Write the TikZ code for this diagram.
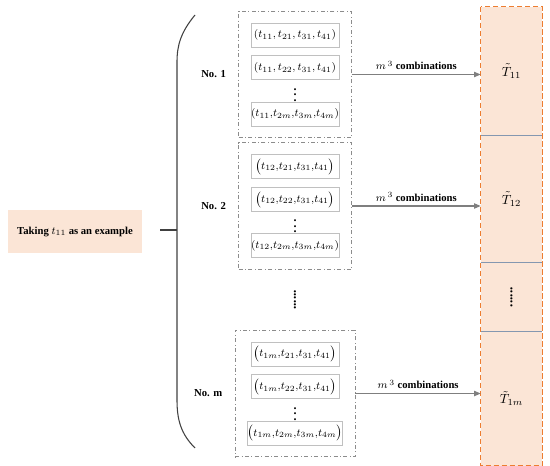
\documentclass[tikz,border=0pt]{standalone}
\usepackage{fontspec}
\setmainfont{Liberation Serif}
\usepackage{graphicx}
\usepackage{tikz}
\usetikzlibrary{positioning,fit,arrows.meta,calc}
\definecolor{peach}{HTML}{FBE5D6}
\definecolor{dashorange}{HTML}{ED7D31}
\definecolor{divline}{HTML}{8497B0}
\definecolor{grpline}{HTML}{8C8C8C}
\definecolor{tupline}{HTML}{C0C0C0}
\definecolor{flowline}{HTML}{7F7F7F}
\tikzset{
  take/.style   = {fill=peach, font=\footnotesize\bfseries, minimum width=100.5pt,
                   minimum height=32pt, inner sep=2pt},
  tuple/.style  = {draw=tupline, line width=0.7pt, minimum width=66pt,
                   minimum height=18pt, inner sep=1pt, font=\footnotesize},
  vdot/.style   = {inner sep=0pt, font=\small\bfseries, minimum height=12pt},
  mdots/.style  = {inner sep=0pt, font=\normalsize\bfseries},
  grp/.style    = {draw=grpline, dash dot, line width=0.6pt, inner xsep=9pt,
                   inner ysep=8.5pt},
  nolbl/.style  = {font=\footnotesize\bfseries, inner sep=1pt},
  cell/.style   = {fill=peach, minimum width=45.75pt, inner sep=0pt, font=\normalsize},
  flow/.style   = {-{Triangle[length=5pt,width=4pt]}, line width=0.8pt, draw=flowline,
                   fill=flowline},
  cmb/.style    = {font=\footnotesize, inner sep=1pt, above=2pt, text=black},
  brace/.style  = {draw=black!75, line width=0.8pt},
}
\begin{document}
\begin{tikzpicture}[x=0.75pt, y=-0.75pt, node distance=6pt]
    \useasboundingbox (0,0) rectangle (550,466);
    % Left: the chosen element and the brace
    \node[take] (take) at (75,231.5) {Taking $t_{11}$ as an example};
    \coordinate (stub) at (160,230);
    \coordinate (tip) at (177,230);
    \coordinate (btop) at (195,15);
    \coordinate (bbot) at (195,448);
    % Group No. 1
    \node[tuple] (a1) at (295,35) {$(t_{11}{,}\,t_{21}{,}\,t_{31}{,}\,t_{41})$};
    \node[tuple, below=of a1] (a2) {$(t_{11}{,}\,t_{22}{,}\,t_{31}{,}\,t_{41})$};
    \node[vdot, below=0pt of a2] (a3) {$\vdots$};
    \node[tuple, inner xsep=0pt, below=0pt of a3] (a4) {$(t_{11}{,}t_{2m}{,}t_{3m}{,}t_{4m})$};
    \node[grp, fit=(a1)(a4)] (g1) {};
    % Group No. 2
    \node[tuple] (b1) at (295,166.5) {$\bigl(t_{12}{,}t_{21}{,}t_{31}{,}t_{41}\bigr)$};
    \node[tuple, below=of b1] (b2) {$\bigl(t_{12}{,}t_{22}{,}t_{31}{,}t_{41}\bigr)$};
    \node[vdot, below=0pt of b2] (b3) {$\vdots$};
    \node[tuple, inner xsep=0pt, below=0pt of b3] (b4) {$(t_{12}{,}t_{2m}{,}t_{3m}{,}t_{4m})$};
    \node[grp, fit=(b1)(b4)] (g2) {};
    % Group No. m
    \node[tuple] (m1) at (295,354) {$\bigl(t_{1m}{,}t_{21}{,}t_{31}{,}t_{41}\bigr)$};
    \node[tuple, below=of m1] (m2) {$\bigl(t_{1m}{,}t_{22}{,}t_{31}{,}t_{41}\bigr)$};
    \node[vdot, below=0pt of m2] (m3) {$\vdots$};
    \node[tuple, inner xsep=0pt, below=0pt of m3] (m4) {$\bigl(t_{1m}{,}t_{2m}{,}t_{3m}{,}t_{4m}\bigr)$};
    \node[grp, fit=(m1)(m4)] (gm) {};
    \node[mdots] (gdots) at (295,300) {\rotatebox{90}{......}};
    \node[nolbl, left=8pt of g1] {No. 1};
    \node[nolbl, left=8pt of g2] {No. 2};
    \node[nolbl, left=8pt of gm] {No. m};
    % Right column of results
    \node[cell, minimum height=96pt] (c1) at (511.5,71) {$\tilde{T}_{11}$};
    \node[cell, minimum height=95.25pt, below=0pt of c1] (c2) {$\tilde{T}_{12}$};
    \node[cell, minimum height=51pt, below=0pt of c2] (c3) {\rotatebox{90}{\bfseries......}};
    \node[cell, minimum height=100.5pt, below=0pt of c3] (c4) {$\tilde{T}_{1m}$};
    \draw[divline, line width=1pt] (c1.south west) -- (c1.south east);
    \draw[divline, line width=1pt] (c2.south west) -- (c2.south east);
    \draw[divline, line width=1pt] (c3.south west) -- (c3.south east);
    \draw[dashorange, dash pattern=on 4pt off 2pt, line width=0.8pt] (c1.north west) rectangle (c4.south east);

    \draw[brace] (stub) -- (tip);
    \draw[brace] (btop) .. controls (181,32) and (177,45) .. (177,62) -- (177,400)
                 .. controls (177,420) and (181,434) .. (bbot);
    \draw[flow] (g1.east) -- node[cmb]{$m^{\,3}$ \textbf{combinations}} (g1.east -| c1.west);
    \draw[flow] (g2.east) -- node[cmb]{$m^{\,3}$ \textbf{combinations}} (g2.east -| c2.west);
    \draw[flow] (gm.east) -- node[cmb]{$m^{\,3}$ \textbf{combinations}} (gm.east -| c4.west);
\end{tikzpicture}
\end{document}
